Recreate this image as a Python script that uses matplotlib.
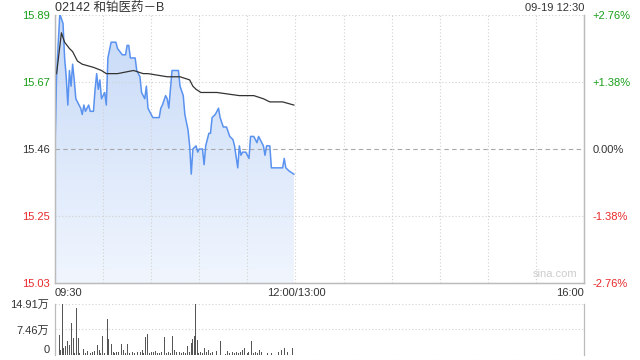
import numpy as np
import matplotlib
matplotlib.use("Agg")
import matplotlib.pyplot as plt

plt.rcParams['font.family'] = ['Liberation Sans', 'Noto Sans CJK SC', 'DejaVu Sans']

title = "02142 和铂医药－B"
stamp = "09-19 12:30"
prev_close = 15.46

# minutes after 09:30 (lunch break removed), price
price_t = [0, 1, 3, 5, 6, 7, 8, 9, 10, 11, 12, 13, 16, 17, 18, 19, 21, 22, 24, 25, 26, 27,
           28, 29, 31, 32, 33, 35, 38, 39, 42, 44, 45, 46, 47, 50, 51, 53, 54, 56, 57, 58,
           61, 65, 66, 67, 69, 70, 71, 73, 77, 78, 80, 81, 83, 84, 85, 86, 88, 89, 90, 92,
           93, 94, 96, 97, 98, 100, 102, 103, 105, 107, 109, 111, 112, 114, 115, 116, 117,
           119, 121, 122, 124, 126, 127, 129, 130, 131, 132, 134, 135, 142, 143, 144, 146, 149]
price = [15.46, 15.70, 15.89, 15.86, 15.75, 15.69, 15.60, 15.71, 15.66, 15.73, 15.68, 15.62,
         15.59, 15.57, 15.60, 15.58, 15.60, 15.58, 15.58, 15.65, 15.70, 15.65, 15.68, 15.62,
         15.64, 15.60, 15.75, 15.80, 15.80, 15.78, 15.76, 15.76, 15.79, 15.79, 15.75, 15.75,
         15.71, 15.69, 15.64, 15.62, 15.66, 15.59, 15.56, 15.56, 15.59, 15.60, 15.63, 15.62,
         15.59, 15.71, 15.71, 15.66, 15.63, 15.57, 15.52, 15.47, 15.38, 15.46, 15.47, 15.45,
         15.46, 15.46, 15.41, 15.47, 15.51, 15.51, 15.56, 15.57, 15.59, 15.56, 15.53, 15.53,
         15.50, 15.49, 15.47, 15.40, 15.47, 15.44, 15.45, 15.45, 15.43, 15.50, 15.50, 15.48,
         15.50, 15.48, 15.47, 15.44, 15.47, 15.47, 15.40, 15.40, 15.43, 15.40, 15.39, 15.38]

avg_t = [1, 4, 6, 9, 11, 14, 17, 24, 29, 32, 39, 49, 55, 58, 70, 78, 84, 86, 88, 91,
         101, 115, 124, 130, 134, 142, 149]
avg = [15.70, 15.83, 15.80, 15.78, 15.77, 15.74, 15.73, 15.72, 15.71, 15.70, 15.70, 15.71,
       15.70, 15.70, 15.69, 15.69, 15.68, 15.66, 15.65, 15.64, 15.64, 15.63, 15.63, 15.62,
       15.61, 15.61, 15.60]

# volume in 万 shares
vol_t = [2.7, 3.5, 4.6, 5.4, 6.5, 7.7, 9.0, 10.0, 11.3, 12.1, 13.3, 14.4, 15.2, 17.7, 18.8,
         20.0, 21.9, 23.1, 24.6, 26.5, 27.5, 28.3, 29.6, 30.8, 32.7, 33.5, 35.0, 36.3, 37.3,
         38.5, 39.8, 41.5, 42.7, 44.0, 45.2, 46.5, 48.3, 49.8, 51.5, 53.1, 54.4, 55.4, 56.5,
         57.7, 59.0, 60.2, 61.5, 62.7, 64.0, 65.2, 66.5, 68.5, 69.8, 71.0, 72.3, 73.5, 74.8,
         76.0, 77.7, 79.0, 80.2, 81.5, 82.7, 84.0, 85.2, 86.0, 86.9, 87.7, 88.8, 89.8, 91.0,
         92.3, 93.5, 94.8, 96.0, 97.3, 98.5, 99.8, 101.0, 102.3, 103.5, 104.8, 106.5, 107.7,
         109.0, 110.6, 111.9, 113.1, 114.4, 115.6, 116.9, 118.5, 119.8, 121.0, 122.7, 124.0,
         125.2, 126.5, 127.7, 129.0, 131.0, 132.3, 133.5, 134.8, 136.0, 139.5, 141.5, 143.3,
         145.2, 148.0]
vol = [5.96, 1.49, 14.91, 1.99, 2.49, 4.17, 2.78, 9.44, 4.97, 0.50, 13.72, 4.97, 0.50, 1.79,
       0.50, 1.19, 0.50, 0.99, 1.19, 2.98, 1.49, 0.50, 5.67, 0.50, 10.44, 4.77, 3.18, 0.99,
       0.50, 0.80, 0.99, 3.18, 1.49, 0.50, 3.18, 0.50, 0.99, 0.50, 0.80, 0.99, 1.49, 0.50,
       5.27, 6.16, 0.50, 0.80, 0.99, 1.19, 0.50, 0.50, 0.99, 5.17, 0.50, 0.80, 0.50, 5.47,
       1.49, 0.99, 0.80, 0.50, 0.99, 0.50, 2.49, 0.80, 3.48, 4.77, 5.47, 14.91, 4.47, 0.50,
       0.99, 0.50, 2.19, 0.99, 1.49, 0.50, 0.80, 0.50, 1.19, 0.50, 4.17, 0.50, 0.20, 1.19,
       0.50, 0.80, 0.50, 0.99, 0.50, 0.80, 1.49, 2.19, 0.50, 0.80, 3.98, 0.50, 0.80, 0.50,
       1.49, 0.80, 6.16, 0.50, 0.80, 0.50, 7.75, 0.80, 1.49, 1.99, 0.99, 2.19]

time_labels = ["09:30", "12:00/13:00", "16:00"]

GREEN = '#1a9e1a'
RED = '#e8282b'
DARK = '#333333'
GRID = '#d2d2d2'

fig = plt.figure(figsize=(6.4, 3.6), dpi=100)
ax = fig.add_axes([55 / 640, 1 - 283 / 360, 529 / 640, 268 / 360])
axv = fig.add_axes([55 / 640, 1 - 355 / 360, 529 / 640, 51 / 360])

pct = 0.0276
ylo, yhi = prev_close * (1 - pct), prev_close * (1 + pct)
ax.set_xlim(0, 330)
ax.set_ylim(ylo, yhi)

# gradient fill under price line, darker near the top
poly = ax.fill_between(price_t, price, ylo, color='none', lw=0)
grad = np.linspace(0, 1, 256).reshape(-1, 1)
cmap = matplotlib.colors.LinearSegmentedColormap.from_list('g', ['#f1f6fe', '#c6d9f7'])
im = ax.imshow(grad, aspect='auto', cmap=cmap, extent=[0, 330, ylo, yhi], origin='lower', zorder=1)
im.set_clip_path(poly.get_paths()[0], transform=ax.transData)
ax.set_xlim(0, 330)
ax.set_ylim(ylo, yhi)

ax.plot(price_t, price, color='#5a92ef', lw=1.1, zorder=3)
ax.plot(avg_t, avg, color='#333333', lw=0.9, zorder=4)

yt = [prev_close * (1 + k * 0.0138) for k in (-2, -1, 0, 1, 2)]
yt[0], yt[-1] = ylo, yhi
for i, y in enumerate(yt):
    if i == 2:
        ax.axhline(y, color='#a8a8a8', lw=0.8, dashes=(4, 3), zorder=2)
    else:
        ax.axhline(y, color=GRID, lw=0.8, ls=(0, (1, 2)), zorder=2)
for x in range(30, 330, 30):
    ax.axvline(x, color=GRID, lw=0.8, ls=(0, (1, 2)), zorder=2)

ax.set_xticks([])
ax.set_yticks(yt)
ax.set_yticklabels([f"{v:.2f}" for v in yt], fontsize=8)
cols = [RED, RED, DARK, GREEN, GREEN]
for lab, c in zip(ax.get_yticklabels(), cols):
    lab.set_color(c)
ax.tick_params(axis='y', length=0, pad=4)

axr = ax.twinx()
axr.set_ylim(ylo, yhi)
axr.set_yticks(yt)
axr.set_yticklabels(["-2.76%", "-1.38%", "0.00%", "+1.38%", "+2.76%"], fontsize=8)
for lab, c in zip(axr.get_yticklabels(), cols):
    lab.set_color(c)
axr.tick_params(axis='y', length=0, pad=6)

for a in (ax, axr):
    a.spines['top'].set_visible(False)
    for s in ('left', 'right', 'bottom'):
        a.spines[s].set_color('#bbbbbb')
        a.spines[s].set_linewidth(0.9)

ax.text(0.945, 0.015, "sina.com", transform=ax.transAxes, ha='center', va='bottom',
        fontsize=8, color='#cccccc', zorder=5)

# volume panel
axv.bar(vol_t, vol, width=0.6, color='#555555', zorder=3)
axv.set_xlim(0, 330)
axv.set_ylim(0, 14.91)
axv.set_xticks([])
axv.set_yticks([0, 7.46, 14.91])
axv.set_yticklabels(["0", "7.46万", "14.91万"], fontsize=8, color=DARK)
axv.get_yticklabels()[0].set_va('bottom')
axv.tick_params(axis='y', length=0, pad=4)
for y in (0, 7.46, 14.91):
    axv.axhline(y, color=GRID, lw=0.8, ls=(0, (1, 2)), zorder=1)
axv.spines['top'].set_visible(False)
axv.spines['bottom'].set_visible(False)
for s in ('left', 'right'):
    axv.spines[s].set_color('#bbbbbb')
    axv.spines[s].set_linewidth(0.9)

# header and time labels
fig.text(55 / 640, 1 - 8 / 360, title, ha='left', va='center', fontsize=9, color=DARK)
fig.text(584 / 640, 1 - 8 / 360, stamp, ha='right', va='center', fontsize=8, color=DARK)
fig.text(55 / 640, 1 - 293 / 360, time_labels[0], ha='left', va='center', fontsize=8, color=DARK)
fig.text(296 / 640, 1 - 293 / 360, time_labels[1], ha='center', va='center', fontsize=8, color=DARK)
fig.text(584 / 640, 1 - 293 / 360, time_labels[2], ha='right', va='center', fontsize=8, color=DARK)

fig.savefig("out.png", dpi=100, facecolor='white')
